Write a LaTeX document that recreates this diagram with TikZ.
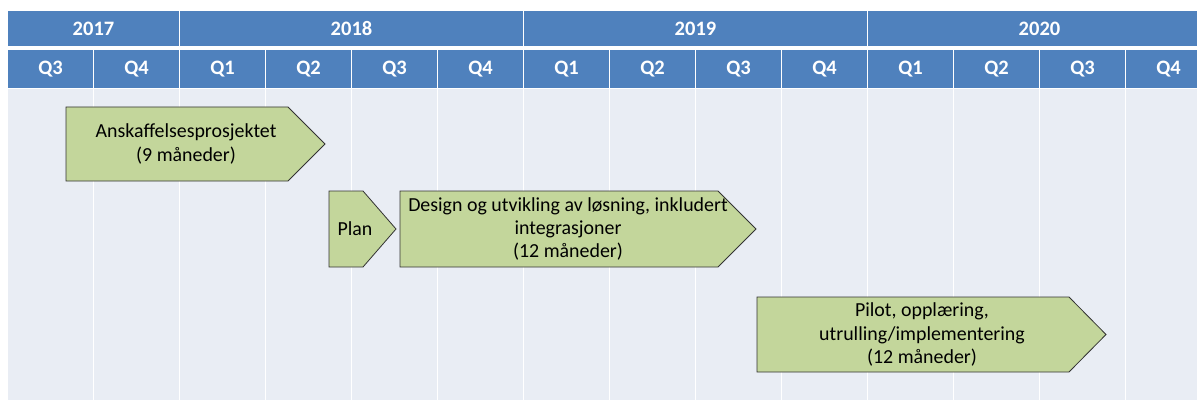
\documentclass[tikz,border=0pt]{standalone}
\usepackage{fontspec}
\setmainfont{Carlito}
\usetikzlibrary{calc}
\definecolor{headblue}{HTML}{4F81BD}
\definecolor{bodyblue}{HTML}{E9EDF4}
\definecolor{phasegreen}{HTML}{C3D69B}
\tikzset{
headtext/.style={text=white,font=\bfseries\fontsize{20.5}{24}\selectfont,inner sep=0pt},
phasebox/.style={fill=phasegreen,draw=black!80,line width=0.8pt,line join=miter},
phasetext/.style={align=center,font=\fontsize{19.9}{23.2}\selectfont,inner sep=0pt}
}
\newcommand{\yearcell}[4]{%
\fill[headblue] ({8+86*#2},11) rectangle ++({86*#3-1},35);
\node[headtext] (#1) at ({8+86*#2+(86*#3-1)/2},28.5) {#4};
}
\newcommand{\quartercol}[3]{%
\fill[headblue] ({8+86*#1},50) rectangle ++(85,38);
\fill[bodyblue] ({8+86*#1},89) rectangle ++(85,311);
\node[headtext] (#2) at ({8+86*#1+42.5},69) {#3};
}
\newcommand{\drawphase}[7]{%
\draw[phasebox] (#2,#5) -- (#3,#5) -- (#4,{(#5+#6)/2}) -- (#3,#6) -- (#2,#6) -- cycle;
\node[phasetext] (#1) at ({(#2+#3)/2+9},{(#5+#6)/2}) {#7};
}

\begin{document}
\begin{tikzpicture}[x=1pt,y=-1pt]
\useasboundingbox (0,0) rectangle (1197,401);

% years
\yearcell{y2017}{0}{2}{2017}
\yearcell{y2018}{2}{4}{2018}
\yearcell{y2019}{6}{4}{2019}
\yearcell{y2020}{10}{4}{2020}

% quarters
\quartercol{0}{q17c}{Q3}
\quartercol{1}{q17d}{Q4}
\quartercol{2}{q18a}{Q1}
\quartercol{3}{q18b}{Q2}
\quartercol{4}{q18c}{Q3}
\quartercol{5}{q18d}{Q4}
\quartercol{6}{q19a}{Q1}
\quartercol{7}{q19b}{Q2}
\quartercol{8}{q19c}{Q3}
\quartercol{9}{q19d}{Q4}
\quartercol{10}{q20a}{Q1}
\quartercol{11}{q20b}{Q2}
\quartercol{12}{q20c}{Q3}
\quartercol{13}{q20d}{Q4}

% phases
\drawphase{anskaff}{66}{288}{325}{107}{181}{Anskaffelsesprosjektet\\(9 måneder)}
\drawphase{plan}{329}{363}{396}{191}{267}{Plan}
\drawphase{design}{400}{718}{756}{191}{267}{Design og utvikling av løsning, inkludert\\integrasjoner\\(12 måneder)}
\drawphase{pilot}{757}{1069}{1106}{297}{372}{Pilot, opplæring,\\utrulling/implementering\\(12 måneder)}

\end{tikzpicture}
\end{document}
